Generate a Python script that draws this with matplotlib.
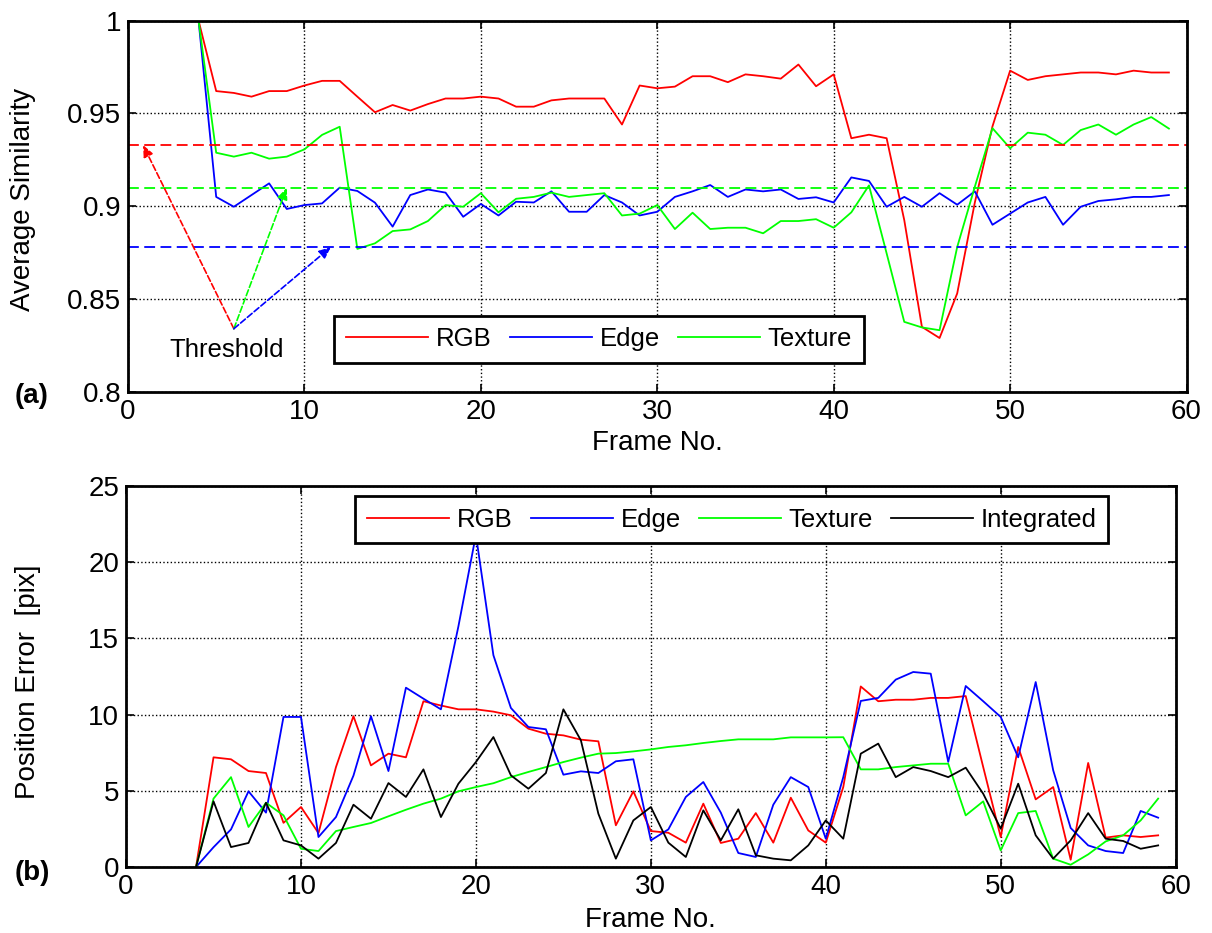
import matplotlib
matplotlib.use("Agg")
import matplotlib.pyplot as plt
import numpy as np
from matplotlib.ticker import FormatStrFormatter

plt.rcParams['font.family'] = ['Liberation Sans', 'DejaVu Sans']

frames = np.arange(4, 60)

# (a) average similarity
sim_rgb = [1.0, 0.962, 0.961, 0.959, 0.962, 0.962, 0.965, 0.9675, 0.9675, 0.959,
           0.9506, 0.9545, 0.9515, 0.955, 0.958, 0.958, 0.959, 0.958, 0.9536, 0.9536,
           0.957, 0.958, 0.958, 0.958, 0.944, 0.965, 0.9635, 0.9644, 0.970, 0.970,
           0.9668, 0.971, 0.970, 0.9687, 0.9763, 0.9646, 0.971, 0.9366, 0.9385, 0.9366,
           0.8925, 0.835, 0.829, 0.853, 0.902, 0.943, 0.973, 0.968, 0.970, 0.971,
           0.972, 0.972, 0.971, 0.973, 0.972, 0.972]
sim_edge = [1.0, 0.905, 0.8997, 0.906, 0.9123, 0.8985, 0.9006, 0.9015, 0.910, 0.9082,
            0.9019, 0.889, 0.906, 0.909, 0.9073, 0.8943, 0.9012, 0.895, 0.9024, 0.902,
            0.908, 0.897, 0.897, 0.906, 0.902, 0.895, 0.897, 0.905, 0.908, 0.9114,
            0.905, 0.909, 0.908, 0.909, 0.9039, 0.9048, 0.902, 0.9155, 0.9136, 0.8997,
            0.905, 0.8997, 0.907, 0.9008, 0.908, 0.890, 0.896, 0.902, 0.905, 0.890,
            0.8997, 0.9028, 0.9037, 0.905, 0.905, 0.906]
sim_texture = [1.0, 0.9288, 0.9267, 0.9288, 0.9256, 0.9267, 0.9306, 0.9384, 0.9428, 0.877,
               0.880, 0.8866, 0.8875, 0.892, 0.9006, 0.8997, 0.907, 0.8967, 0.904, 0.905,
               0.9073, 0.905, 0.906, 0.907, 0.895, 0.896, 0.9006, 0.8877, 0.8965, 0.8877,
               0.8884, 0.8884, 0.8854, 0.892, 0.892, 0.893, 0.8884, 0.8967, 0.9112, 0.8746,
               0.8377, 0.8347, 0.8332, 0.878, 0.9105, 0.942, 0.9312, 0.9396, 0.9385, 0.933,
               0.941, 0.944, 0.9385, 0.944, 0.948, 0.9418]
thr_rgb = 0.933
thr_texture = 0.910
thr_edge = 0.878

# (b) position error
err_rgb = [0, 7.2, 7.07, 6.3, 6.17, 2.9, 3.94, 2.23, 6.56, 9.9,
           6.67, 7.44, 7.2, 10.88, 10.6, 10.35, 10.35, 10.2, 9.96, 9.08,
           8.75, 8.64, 8.36, 8.25, 2.74, 4.97, 2.36, 2.25, 1.6, 4.16,
           1.58, 1.86, 3.54, 1.6, 4.55, 2.4, 1.6, 5.25, 11.85, 10.88,
           10.98, 10.98, 11.1, 11.1, 11.22, 6.56, 1.97, 7.88, 4.44, 5.25,
           0.48, 6.83, 1.93, 2.08, 1.97, 2.08]
err_edge = [0, 1.3, 2.47, 4.97, 3.57, 9.85, 9.85, 1.97, 3.28, 6.0,
            9.9, 6.3, 11.77, 11.05, 10.35, 15.8, 21.8, 13.9, 10.44, 9.19,
            9.04, 6.06, 6.28, 6.17, 6.94, 7.07, 1.75, 2.47, 4.6, 5.58,
            3.57, 0.92, 0.66, 4.09, 5.9, 5.25, 1.86, 5.9, 10.9, 11.1,
            12.3, 12.8, 12.69, 6.9, 11.88, 10.88, 9.85, 7.2, 12.14, 6.35,
            2.56, 1.42, 1.05, 0.92, 3.68, 3.24]
err_texture = [0, 4.49, 5.9, 2.63, 4.22, 3.39, 1.2, 1.05, 2.36, 2.63,
               2.89, 3.33, 3.76, 4.16, 4.49, 4.97, 5.25, 5.5, 5.9, 6.24,
               6.56, 6.89, 7.18, 7.44, 7.48, 7.59, 7.72, 7.88, 7.99, 8.14,
               8.27, 8.38, 8.38, 8.38, 8.51, 8.51, 8.51, 8.52, 6.41, 6.41,
               6.56, 6.67, 6.78, 6.78, 3.39, 4.31, 1.09, 3.54, 3.68, 0.55,
               0.15, 0.83, 1.68, 2.08, 3.06, 4.49]
err_integrated = [0, 4.31, 1.31, 1.58, 4.22, 1.75, 1.42, 0.55, 1.58, 4.09,
                  3.17, 5.51, 4.6, 6.41, 3.28, 5.47, 6.89, 8.53, 6.02, 5.14,
                  6.17, 10.35, 8.32, 3.5, 0.55, 3.06, 3.94, 1.6, 0.66, 3.72,
                  1.75, 3.79, 0.77, 0.55, 0.44, 1.42, 3.06, 1.86, 7.44, 8.1,
                  5.9, 6.56, 6.3, 5.9, 6.52, 4.81, 2.52, 5.47, 2.08, 0.55,
                  1.75, 3.54, 1.86, 1.71, 1.2, 1.42]

FS = 20      # ticks and axis labels
LFS = 18.5   # legend / annotation
RED, BLUE, GREEN = (1, 0, 0), (0, 0, 1), (0, 1, 0)


def matlab_style(ax):
    ax.grid(True, color='black', linestyle=':', linewidth=1.0)
    ax.tick_params(direction='in', top=True, right=True, labelsize=FS,
                   length=6, width=1.2, pad=5)
    for s in ax.spines.values():
        s.set_linewidth(2)


def legend_box(ax, **kw):
    leg = ax.legend(fontsize=LFS, frameon=True, fancybox=False, edgecolor='black',
                    framealpha=1, handlelength=3.2, columnspacing=0.7,
                    borderpad=0.45, handletextpad=0.3, borderaxespad=0, **kw)
    leg.get_frame().set_linewidth(2)
    return leg


fig = plt.figure(figsize=(12.12, 9.33), dpi=100)

# ---- (a)
ax1 = fig.add_axes([0.1056, 0.58, 0.8734, 0.398])
ax1.plot(frames, sim_rgb, color=RED, lw=1.3, label='RGB')
ax1.plot(frames, sim_edge, color=BLUE, lw=1.3, label='Edge')
ax1.plot(frames, sim_texture, color=GREEN, lw=1.3, label='Texture')
ax1.axhline(thr_rgb, color=RED, ls='--', lw=1.3, dashes=(6, 3))
ax1.axhline(thr_texture, color=GREEN, ls='--', lw=1.3, dashes=(6, 3))
ax1.axhline(thr_edge, color=BLUE, ls='--', lw=1.3, dashes=(6, 3))

origin = (6.0, 0.834)
for tip, c in [((0.85, thr_rgb), RED), ((9.0, thr_texture), GREEN), ((11.5, thr_edge), BLUE)]:
    ax1.annotate('', xy=tip, xytext=origin,
                 arrowprops=dict(arrowstyle='-|>,head_length=0.7,head_width=0.3',
                                 color=c, lw=1.2, ls='--', shrinkA=0, shrinkB=0))
ax1.text(5.6, 0.8225, 'Threshold', fontsize=LFS, ha='center', va='center')

ax1.set_xlim(0, 60)
ax1.set_ylim(0.8, 1.0)
ax1.set_yticks([0.8, 0.85, 0.9, 0.95, 1.0])
ax1.yaxis.set_major_formatter(FormatStrFormatter('%g'))
ax1.set_xlabel('Frame No.', fontsize=FS, labelpad=4)
ax1.set_ylabel('Average Similarity', fontsize=FS)
ax1.yaxis.set_label_coords(-0.087, 0.517)
matlab_style(ax1)
legend_box(ax1, loc='lower left', bbox_to_anchor=(0.195, 0.078), ncol=3)
fig.text(0.012, 0.568, '(a)', fontsize=FS, fontweight='bold')

# ---- (b)
ax2 = fig.add_axes([0.104, 0.0707, 0.866, 0.4083])
ax2.plot(frames, err_rgb, color=RED, lw=1.3, label='RGB')
ax2.plot(frames, err_edge, color=BLUE, lw=1.3, label='Edge')
ax2.plot(frames, err_texture, color=GREEN, lw=1.3, label='Texture')
ax2.plot(frames, err_integrated, color='black', lw=1.3, label='Integrated')
ax2.set_xlim(0, 60)
ax2.set_ylim(0, 25)
ax2.set_yticks([0, 5, 10, 15, 20, 25])
ax2.set_xlabel('Frame No.', fontsize=FS, labelpad=5)
ax2.set_ylabel('Position Error  [pix]', fontsize=FS)
ax2.yaxis.set_label_coords(-0.081, 0.486)
matlab_style(ax2)
legend_box(ax2, loc='upper right', bbox_to_anchor=(0.936, 0.974), ncol=4)
fig.text(0.012, 0.057, '(b)', fontsize=FS, fontweight='bold')

fig.savefig('out.png', dpi=100, facecolor='white')
